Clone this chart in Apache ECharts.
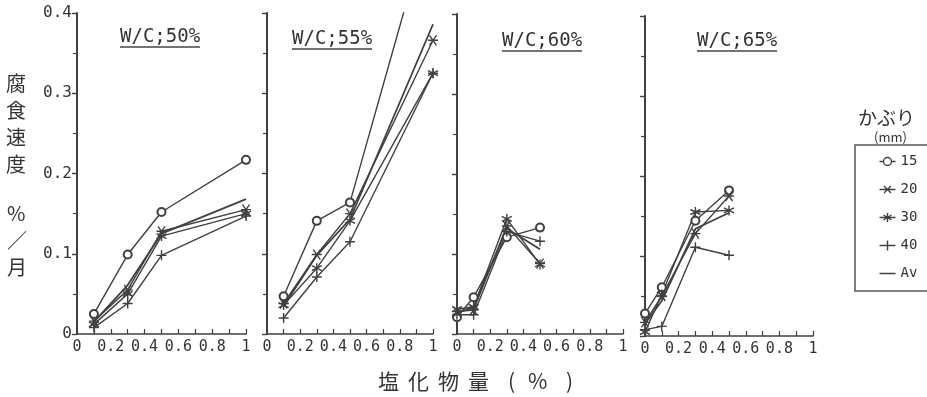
<!DOCTYPE html>
<html>
<head>
<meta charset="utf-8">
<script src="https://cdn.jsdelivr.net/npm/echarts@6/dist/echarts.min.js"></script>
<style>
html, body { margin: 0; padding: 0; background: #fff; }
#chart1 { width: 927px; height: 397px; }
</style>
</head>
<body>
<div id="chart1"></div>
<script>
// x positions (塩化物量 %)
var xA = [0.1, 0.3, 0.5, 1.0];   // W/C 50%, 55%
var xB = [0, 0.1, 0.3, 0.5];     // W/C 60%, 65%

var titles = ['W/C;50%', 'W/C;55%', 'W/C;60%', 'W/C;65%'];
var names = ['15', '20', '30', '40', 'Av'];
var xTicks = ['0', '0.2', '0.4', '0.6', '0.8', '1'];
var yTicks = ['0', '0.1', '0.2', '0.3', '0.4'];

// W/C 50%
var wc50_15 = [0.025, 0.099, 0.152, 0.217];
var wc50_20 = [0.016, 0.055, 0.128, 0.155];
var wc50_30 = [0.012, 0.050, 0.122, 0.150];
var wc50_40 = [0.008, 0.038, 0.098, 0.147];
var wc50_av = [0.015, 0.061, 0.125, 0.168];
// W/C 55%
var wc55_15 = [0.047, 0.141, 0.164, 0.530];
var wc55_20 = [0.038, 0.099, 0.150, 0.366];
var wc55_30 = [0.036, 0.082, 0.141, 0.325];
var wc55_40 = [0.020, 0.071, 0.115, 0.325];
var wc55_av = [0.035, 0.098, 0.143, 0.386];
// W/C 60%
var wc60_15 = [0.021, 0.046, 0.121, 0.133];
var wc60_20 = [0.028, 0.030, 0.135, 0.088];
var wc60_30 = [0.031, 0.034, 0.144, 0.087];
var wc60_40 = [0.024, 0.024, 0.128, 0.116];
var wc60_av = [0.026, 0.034, 0.132, 0.106];
// W/C 65%
var wc65_15 = [0.028, 0.061, 0.144, 0.182];
var wc65_20 = [0.017, 0.050, 0.128, 0.175];
var wc65_30 = [0.005, 0.052, 0.155, 0.157];
var wc65_40 = [0.008, 0.012, 0.111, 0.101];
var wc65_av = [0.015, 0.044, 0.134, 0.154];

var panels = [
    { x: xA, s: [wc50_15, wc50_20, wc50_30, wc50_40, wc50_av] },
    { x: xA, s: [wc55_15, wc55_20, wc55_30, wc55_40, wc55_av] },
    { x: xB, s: [wc60_15, wc60_20, wc60_30, wc60_40, wc60_av] },
    { x: xB, s: [wc65_15, wc65_20, wc65_30, wc65_40, wc65_av] }
];

var ink = '#404040';
var monoFont = 'DejaVu Sans Mono';
var cjkFont = 'Noto Sans CJK JP';

// marker shapes
var symbols = [
    'emptyCircle',
    'path://M0,5L10,5M1.5,1.5L8.5,8.5M1.5,8.5L8.5,1.5',
    'path://M5,0L5,10M0.7,2.5L9.3,7.5M0.7,7.5L9.3,2.5',
    'path://M0,5L10,5M5,0L5,10',
    'none'
];
// legend icons (line + marker), corner anchors keep every icon box 16x10
var anchor = 'M0,0L0.01,0M0,10L0.01,10';
var legendIcons = [
    'path://' + anchor + 'M0,5L4,5M12,5L16,5M4,5A4,4,0,1,1,12,5A4,4,0,1,1,4,5Z',
    'path://' + anchor + 'M0,5L16,5M4.5,1.5L11.5,8.5M4.5,8.5L11.5,1.5',
    'path://' + anchor + 'M0,5L16,5M8,0.5L8,9.5M4,2.5L12,7.5M4,7.5L12,2.5',
    'path://' + anchor + 'M0,5L16,5M8,0L8,10',
    'path://' + anchor + 'M0,5L16,5'
];

var gridPos = [
    { left: 77, top: 13, width: 169, height: 321 },
    { left: 267, top: 13, width: 166, height: 321 },
    { left: 457, top: 14, width: 166, height: 320 },
    { left: 645, top: 16, width: 168, height: 320 }
];

var grid = [], xAxis = [], yAxis = [], series = [];
for (var p = 0; p < panels.length; p++) {
    grid.push(gridPos[p]);
    xAxis.push({
        type: 'value', gridIndex: p, min: 0, max: 1, interval: 0.2,
        axisLine: { lineStyle: { color: ink, width: 1.6 } },
        axisTick: { inside: true, length: 5, lineStyle: { color: ink, width: 1.2 } },
        minorTick: { show: true, splitNumber: 2, length: 5, lineStyle: { color: ink, width: 1.2 } },
        splitLine: { show: false },
        axisLabel: {
            margin: 6, color: '#333', fontFamily: monoFont, fontSize: 15,
            formatter: function(v) { return xTicks[Math.round(v / 0.2)]; }
        }
    });
    yAxis.push({
        type: 'value', gridIndex: p, min: 0, max: 0.4, interval: 0.1,
        axisLine: { show: true, lineStyle: { color: ink, width: 2 } },
        axisTick: { show: true, length: 5, lineStyle: { color: ink, width: 1.4 } },
        minorTick: { show: true, splitNumber: 2, length: 4, lineStyle: { color: ink, width: 1.2 } },
        splitLine: { show: false },
        axisLabel: {
            show: p == 0, margin: 5, color: '#333', fontFamily: monoFont, fontSize: 16,
            formatter: function(v) { return yTicks[Math.round(v / 0.1)]; }
        }
    });
    for (var k = 0; k < names.length; k++) {
        var pts = [];
        for (var i = 0; i < panels[p].x.length; i++) {
            pts.push([panels[p].x[i], panels[p].s[k][i]]);
        }
        series.push({
            name: names[k], type: 'line', xAxisIndex: p, yAxisIndex: p,
            data: pts, symbol: symbols[k], symbolSize: k == 0 ? 8 : 10,
            showSymbol: k != 4, clip: true, animation: false,
            lineStyle: { color: ink, width: k == 4 ? 1.8 : 1.4 },
            itemStyle: { color: k == 0 ? ink : 'none', borderColor: ink, borderWidth: 1.4 },
            emphasis: { disabled: true }
        });
    }
}

var legendData = [];
for (var j = 0; j < names.length; j++) {
    legendData.push({ name: names[j], icon: legendIcons[j] });
}

// panel titles with underline
var titleBox = [[120, 28], [292, 30], [502, 32], [697, 32]];
var graphic = [];
for (var t = 0; t < titles.length; t++) {
    graphic.push({
        type: 'text', left: titleBox[t][0], top: titleBox[t][1],
        style: { text: titles[t], fill: '#333', font: '19px ' + monoFont }
    });
    graphic.push({
        type: 'line',
        shape: { x1: titleBox[t][0], y1: titleBox[t][1] + 19, x2: titleBox[t][0] + 80, y2: titleBox[t][1] + 19 },
        style: { stroke: '#444', lineWidth: 1.3 }
    });
}
// y axis name
graphic.push({
    type: 'text', left: 6, top: 70,
    style: { text: '腐\n食\n速\n度', fill: '#333', font: '20px "' + cjkFont + '"', lineHeight: 27 }
});
graphic.push({
    type: 'text', left: 7, top: 200,
    style: { text: '%\n／\n月', fill: '#333', font: '20px "' + cjkFont + '"', lineHeight: 27 }
});
// x axis name
var xName = ['塩', '化', '物', '量', '(', '%', ')'];
var xNamePos = [378, 408, 438, 468, 508, 528, 566];
for (var n = 0; n < xName.length; n++) {
    graphic.push({
        type: 'text', left: xNamePos[n], top: 371,
        style: { text: xName[n], fill: '#333', font: '21px "' + cjkFont + '"' }
    });
}
// legend title
graphic.push({
    type: 'text', left: 858, top: 108,
    style: { text: 'かぶり', fill: '#333', font: '19px "' + cjkFont + '"' }
});
graphic.push({
    type: 'text', left: 874, top: 131,
    style: { text: '(mm)', fill: '#333', font: '13px "' + cjkFont + '"' }
});

var chart1 = echarts.init(document.getElementById('chart1'));
var option = {
    backgroundColor: '#fff',
    animation: false,
    grid: grid,
    xAxis: xAxis,
    yAxis: yAxis,
    series: series,
    graphic: graphic,
    legend: {
        data: legendData, orient: 'vertical', left: 855, top: 145,
        itemWidth: 16, itemHeight: 10, itemGap: 13,
        padding: [9, 60, 10, 22],
        borderColor: '#555', borderWidth: 1.5,
        selectedMode: false,
        itemStyle: { color: 'none', borderColor: ink, borderWidth: 1.4 },
        textStyle: { color: '#333', fontFamily: monoFont, fontSize: 14 }
    }
};
chart1.setOption(option);
</script>
</body>
</html>
